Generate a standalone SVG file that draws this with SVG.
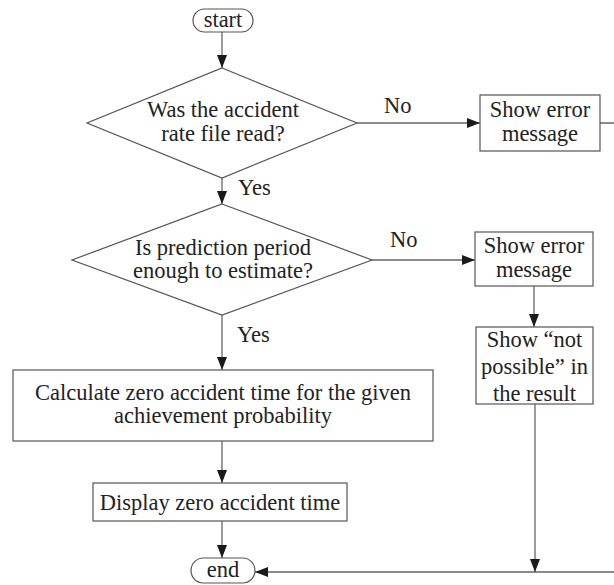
<svg xmlns="http://www.w3.org/2000/svg" width="614" height="585" viewBox="0 0 614 585">
  <defs>
    <marker id="arrow" markerUnits="userSpaceOnUse" markerWidth="14" markerHeight="12" refX="13" refY="5" orient="auto">
      <path d="M0,0 L13,5 L0,10 Z" fill="#1a1a1a"/>
    </marker>
    <style>
      .shape { fill: #ffffff; stroke: #555555; stroke-width: 1.2; }
      .edge { fill: none; stroke: #666666; stroke-width: 1.3; }
      .txt { font-family: "Liberation Serif", "Times New Roman", serif; font-size: 22.5px; fill: #222222; text-anchor: middle; }
      .lbl { font-family: "Liberation Serif", "Times New Roman", serif; font-size: 22.5px; fill: #222222; }
    </style>
  </defs>
  <rect width="614" height="585" fill="#ffffff"/>

  <!-- connectors -->
  <g id="connectors">
    <path class="edge" d="M222 32 V68" marker-end="url(#arrow)"/>
    <path class="edge" d="M222 178 V204" marker-end="url(#arrow)"/>
    <path class="edge" d="M357 123 H480" marker-end="url(#arrow)"/>
    <path class="edge" d="M600 123 H622 V572 H255" marker-end="url(#arrow)"/>
    <path class="edge" d="M372 260 H475" marker-end="url(#arrow)"/>
    <path class="edge" d="M534 286 V327" marker-end="url(#arrow)"/>
    <path class="edge" d="M535 404 V572" marker-end="url(#arrow)"/>
    <path class="edge" d="M222 315 V370" marker-end="url(#arrow)"/>
    <path class="edge" d="M222 441 V483" marker-end="url(#arrow)"/>
    <path class="edge" d="M222 521 V558" marker-end="url(#arrow)"/>
    <text class="lbl" x="384" y="113">No</text>
    <text class="lbl" x="238" y="195">Yes</text>
    <text class="lbl" x="390" y="247">No</text>
    <text class="lbl" x="237" y="342">Yes</text>
  </g>

  <g id="start">
    <rect class="shape" x="193" y="9" width="60" height="23" rx="11.5"/>
    <text class="txt" x="223" y="27">start</text>
  </g>

  <g id="check-file">
    <polygon class="shape" points="222,68 357,123 222,178 87,123"/>
    <text class="txt" x="223" y="117">Was the accident</text>
    <text class="txt" x="223" y="141">rate file read?</text>
  </g>

  <g id="error-file">
    <rect class="shape" x="480" y="95" width="120" height="56"/>
    <text class="txt" x="540" y="117">Show error</text>
    <text class="txt" x="540" y="141">message</text>
  </g>

  <g id="check-period">
    <polygon class="shape" points="222,204 372,260 222,315 72,260"/>
    <text class="txt" x="223" y="255">Is prediction period</text>
    <text class="txt" x="223" y="278">enough to estimate?</text>
  </g>

  <g id="error-period">
    <rect class="shape" x="475" y="232" width="118" height="54"/>
    <text class="txt" x="534" y="253">Show error</text>
    <text class="txt" x="534" y="277">message</text>
  </g>

  <g id="not-possible">
    <rect class="shape" x="476" y="327" width="117" height="77"/>
    <text class="txt" x="534.5" y="347">Show “not</text>
    <text class="txt" x="534.5" y="374">possible” in</text>
    <text class="txt" x="534.5" y="401">the result</text>
  </g>

  <g id="calculate">
    <rect class="shape" x="13" y="370" width="420" height="71"/>
    <text class="txt" x="223" y="400">Calculate zero accident time for the given</text>
    <text class="txt" x="223" y="423">achievement probability</text>
  </g>

  <g id="display">
    <rect class="shape" x="93" y="483" width="254" height="38"/>
    <text class="txt" x="220" y="510">Display zero accident time</text>
  </g>

  <g id="end">
    <rect class="shape" x="191" y="558" width="64" height="25" rx="12.5"/>
    <text class="txt" x="223" y="577">end</text>
  </g>
</svg>
